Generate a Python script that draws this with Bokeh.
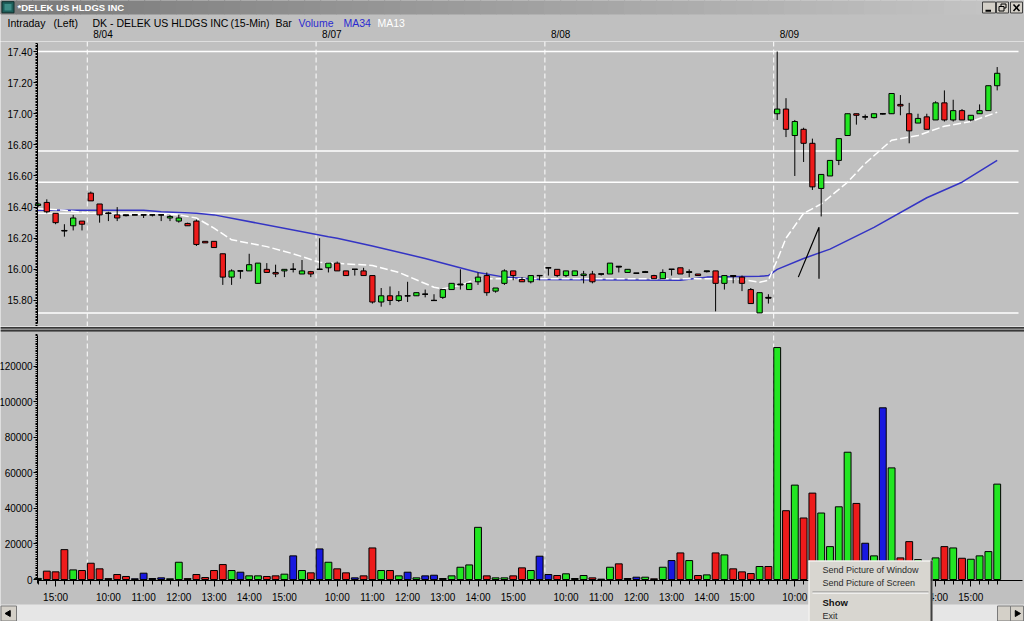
import math
from bokeh.plotting import figure
from bokeh.layouts import column
from bokeh.models import Range1d, FixedTicker, Span, ColumnDataSource
from bokeh.core.properties import value
from bokeh.embed import file_html
from bokeh.resources import INLINE

# ---------------- data ----------------
bar_index = list(range(110))

opens = [
    16.41, 16.43, 16.36, 16.25, 16.28, 16.31,
    16.49, 16.42, 16.362, 16.35, 16.35, 16.35, 16.35, 16.35, 16.35, 16.33, 16.31, 16.295, 16.31, 16.18, 16.18, 16.10, 15.95, 15.99, 15.99, 15.91, 16.00, 15.98, 15.99, 16.00, 15.97, 15.985,
    16.00, 16.01, 16.04, 15.99, 16.00, 15.99, 15.96, 15.79, 15.83, 15.80, 15.83, 15.83, 15.84, 15.80, 15.82, 15.87, 15.90, 15.87, 15.92, 15.96, 15.86, 15.91, 15.99, 15.935, 15.92, 15.96,
    16.01, 16.00, 15.96, 15.96, 15.96, 15.97, 15.97, 15.97, 16.02, 15.98, 15.975, 15.98, 15.96, 15.94, 16.00, 16.01, 15.98, 15.97, 15.985, 15.99, 15.91, 15.96, 15.95, 15.87, 15.72, 15.82,
    17.00, 17.03, 16.86, 16.90, 16.81, 16.52, 16.60, 16.70, 16.86, 17.00, 16.98, 16.975, 17.00, 17.00, 17.06, 17.00, 16.94, 16.98, 16.96, 17.07, 16.96, 17.02, 16.96, 17.00, 17.02, 17.18,
]
highs = [
    16.43, 16.45, 16.36, 16.29, 16.35, 16.31,
    16.50, 16.42, 16.37, 16.40, 16.35, 16.35, 16.35, 16.35, 16.35, 16.35, 16.35, 16.30, 16.32, 16.18, 16.18, 16.10, 16.00, 15.99, 16.10, 16.04, 16.04, 16.03, 16.00, 16.04, 16.06, 15.99,
    16.20, 16.04, 16.05, 15.99, 16.00, 16.01, 15.96, 15.88, 15.89, 15.86, 15.92, 15.85, 15.87, 15.84, 15.87, 15.91, 16.00, 15.91, 15.98, 15.98, 15.88, 16.00, 15.99, 15.95, 15.96, 15.96,
    16.01, 16.00, 15.99, 15.99, 15.99, 15.99, 15.97, 16.04, 16.02, 16.00, 15.975, 15.99, 15.965, 16.00, 16.00, 16.01, 16.00, 15.97, 15.99, 15.99, 15.96, 15.96, 15.96, 15.88, 15.85, 15.84,
    17.40, 17.10, 16.96, 16.91, 16.84, 16.61, 16.70, 16.84, 17.00, 17.00, 16.995, 17.00, 17.005, 17.13, 17.12, 17.07, 17.00, 17.00, 17.08, 17.15, 17.09, 17.03, 16.99, 17.06, 17.18, 17.30,
]
lows = [
    16.40, 16.36, 16.29, 16.21, 16.25, 16.25,
    16.44, 16.30, 16.31, 16.31, 16.34, 16.35, 16.33, 16.34, 16.31, 16.31, 16.30, 16.28, 16.15, 16.17, 16.14, 15.90, 15.90, 15.94, 15.99, 15.91, 15.98, 15.95, 15.95, 15.98, 15.97, 15.95,
    16.00, 15.98, 15.99, 15.96, 15.96, 15.96, 15.78, 15.76, 15.77, 15.79, 15.79, 15.83, 15.82, 15.80, 15.81, 15.87, 15.87, 15.87, 15.90, 15.83, 15.85, 15.90, 15.93, 15.92, 15.91, 15.93,
    15.96, 15.95, 15.95, 15.96, 15.91, 15.91, 15.96, 15.97, 15.98, 15.98, 15.97, 15.98, 15.94, 15.94, 15.96, 15.97, 15.95, 15.96, 15.98, 15.73, 15.87, 15.91, 15.86, 15.78, 15.72, 15.78,
    16.96, 16.85, 16.60, 16.69, 16.51, 16.34, 16.60, 16.67, 16.86, 16.93, 16.96, 16.97, 16.995, 17.00, 16.99, 16.81, 16.94, 16.90, 16.96, 16.95, 16.95, 16.96, 16.95, 17.00, 17.02, 17.15,
]
closes = [
    16.42, 16.37, 16.30, 16.247, 16.33, 16.29,
    16.44, 16.35, 16.358, 16.33, 16.345, 16.35, 16.35, 16.35, 16.35, 16.34, 16.33, 16.28, 16.16, 16.17, 16.14, 15.95, 15.99, 15.99, 16.03, 16.04, 15.98, 15.97, 16.00, 16.00, 15.99, 15.97,
    16.00, 16.04, 15.99, 15.96, 16.00, 15.96, 15.79, 15.83, 15.80, 15.83, 15.83, 15.85, 15.84, 15.80, 15.87, 15.91, 15.905, 15.91, 15.95, 15.85, 15.88, 15.99, 15.96, 15.92, 15.96, 15.96,
    16.01, 15.96, 15.99, 15.99, 15.97, 15.92, 15.97, 16.04, 16.015, 16.00, 15.975, 15.985, 15.94, 15.98, 16.00, 15.97, 15.985, 15.96, 15.99, 15.91, 15.96, 15.955, 15.91, 15.78, 15.85, 15.815,
    17.03, 16.90, 16.95, 16.81, 16.53, 16.61, 16.70, 16.84, 17.00, 16.99, 16.98, 17.00, 17.00, 17.13, 17.05, 16.89, 16.97, 16.90, 17.07, 16.96, 17.02, 16.96, 16.99, 17.02, 17.18, 17.26,
]
volumes = [
    600, 4700, 4300, 16800, 5400, 5050,
    9150, 6000, 500, 2800, 1700, 400, 3550, 550, 930, 400, 9700, 500, 2800, 1100, 5050, 8400, 5050, 4100, 2050, 2050, 1700, 2050, 3000, 13300, 5050, 3750,
    17200, 9700, 6000, 3750, 930, 2050, 17750, 5050, 5050, 2050, 4100, 930, 2050, 2400, 560, 2050, 6900, 8200, 29350, 2050, 930, 930, 2050, 6550, 5050, 13100,
    2800, 2250, 3200, 560, 2250, 930, 200, 6900, 8800, 560, 1300, 1300, 370, 6900, 10650, 14950, 10650, 2250, 2600, 14950, 13850, 6000, 4300, 3350, 7300, 7300,
    130500, 38700, 53100, 34600, 48600, 37400, 18500, 40900, 71600, 42800, 20400, 13300, 96600, 62800, 12150, 21300, 11200, 9000, 12150, 18500, 17750, 11950, 11400, 13300, 15700, 53650,
]
ma34_bars = [0, 12, 14, 18, 20, 33, 34, 38, 44, 50, 53, 57, 73, 76, 82, 83, 84, 87, 90, 95, 101, 105, 109]
ma34_values = [16.38, 16.38, 16.37, 16.36, 16.35, 16.21, 16.20, 16.15, 16.07, 15.98, 15.95, 15.935, 15.93, 15.95, 15.955, 15.96,
               16.00, 16.07, 16.13, 16.27, 16.46, 16.56, 16.70]
ma13_bars = [0, 3, 6, 16, 18, 20, 22, 26, 29, 32, 35, 38, 41, 45, 46, 48, 50, 57, 77, 80, 82, 83,
             84, 85, 87, 89, 92, 94, 97, 100, 103, 106, 109]
ma13_values = [16.39, 16.38, 16.36, 16.35, 16.33, 16.265, 16.19, 16.146, 16.10, 16.045, 16.035, 16.025, 15.98, 15.885, 15.875, 15.897,
               15.94, 15.94, 15.94, 15.935, 15.917, 15.93, 16.06, 16.20, 16.36, 16.42, 16.56, 16.68, 16.83, 16.86, 16.92, 16.95, 17.01]
support_levels = [17.40, 16.76, 16.56, 16.36, 15.72]
trend_bars = [86.4, 88.75, 88.75]
trend_prices = [15.95, 16.27, 15.94]

day_start_bars = [6, 32, 58, 84]
day_labels = ["8/04", "8/07", "8/08", "8/09"]
time_tick_bars = [2, 8, 12, 16, 20, 24, 28, 34, 38, 42, 46, 50, 54, 60, 64, 68, 72, 76, 80, 86, 90, 94, 98, 102, 106]
time_tick_labels = ["15:00"] + ["10:00", "11:00", "12:00", "13:00", "14:00", "15:00"] * 4
price_ticks = [15.80, 16.00, 16.20, 16.40, 16.60, 16.80, 17.00, 17.20, 17.40]
price_tick_labels = ["15.80", "16.00", "16.20", "16.40", "16.60", "16.80", "17.00", "17.20", "17.40"]
volume_ticks = [0, 20000, 40000, 60000, 80000, 100000, 120000]
volume_tick_labels = ["0", "20000", "40000", "60000", "80000", "100000", "120000"]

window_title = "*DELEK US HLDGS INC"
header_words = ["Intraday", "(Left)", "DK - DELEK US HLDGS INC", "(15-Min)", "Bar", "Volume", "MA34", "MA13"]
header_word_px = [7, 53, 92, 230, 275, 298, 343, 377]
menu_items = ["Send Picture of Window", "Send Picture of Screen", "Show", "Exit"]

# ---------------- geometry (window pixels, 1:1) ----------------
W, H = 1024, 621
HDR_H, PRICE_H = 41, 285
VOL_H = H - HDR_H - PRICE_H
BAR0_PX, BAR_STEP_PX = 37.5, 8.8

BG = "#c0c0c0"
UP, DOWN, FLAT = "#22e622", "#ee1b1b", "#1818e0"
MA34_COLOR = "#3434c4"
HDR_BLUE = "#2b2bd0"
MENU_BG = "#d8d6d0"
FONT = "Liberation Sans"


def px2k(px):
    return (px - BAR0_PX) / BAR_STEP_PX


def k2px(k):
    return BAR0_PX + k * BAR_STEP_PX


def price_at(py):
    return 17.40 - (py - 51.0) / 155.6


def vol_at(py):
    return (579.0 - py) * 562.6


XS, XE = px2k(0), px2k(W)
P_TOP, P_BOT = HDR_H, HDR_H + PRICE_H
V_TOP, V_BOT = HDR_H + PRICE_H, H
V_AXIS = vol_at(580)


def base_fig(**kw):
    p = figure(toolbar_location=None, output_backend="svg", background_fill_color=BG,
               border_fill_color=BG, outline_line_color=None, min_border=0, **kw)
    p.grid.visible = False
    return p


def style_axis(ax, ticks, minor, labels, tick_out, minor_out, standoff):
    ax.ticker = FixedTicker(ticks=ticks, minor_ticks=minor)
    ax.major_label_overrides = dict(zip(ticks, labels))
    ax.major_label_text_font = FONT
    ax.major_label_text_font_size = "10px"
    ax.major_label_text_color = "black"
    ax.axis_line_color = "black"
    ax.major_tick_line_color = "black"
    ax.minor_tick_line_color = "black"
    ax.major_tick_in = 0
    ax.minor_tick_in = 0
    ax.major_tick_out = tick_out
    ax.minor_tick_out = minor_out
    ax.major_label_standoff = standoff


def txt(p, xs, ys, texts, size, color="black", bold=False, align="left", level="glyph"):
    p.text(x=xs, y=ys, text=texts, text_font=value(FONT), text_font_size=size,
           text_color=color, text_baseline="middle", text_align=align,
           text_font_style="bold" if bold else "normal", level=level)


# ---------------- header (window title + legend line + dates) ----------------
hdr = base_fig(width=W, height=HDR_H, x_range=Range1d(0, W), y_range=Range1d(HDR_H, 0),
               x_axis_location=None, y_axis_location=None)
n = 64
c0, c1 = (122, 122, 122), (198, 198, 198)
grad = ["#%02x%02x%02x" % tuple(int(c0[j] + (c1[j] - c0[j]) * i / (n - 1)) for j in range(3)) for i in range(n)]
hdr.quad(left=[i * W / n for i in range(n)], right=[(i + 1) * W / n + 0.5 for i in range(n)],
         top=0, bottom=13.5, fill_color=grad, line_color=grad)
hdr.quad(left=1.5, right=13.5, top=1.2, bottom=12.3, fill_color="#1d5e5a", line_color="#0e2f2d")
hdr.quad(left=4, right=11, top=3.5, bottom=10, fill_color="#3d8c86", line_color=None)
txt(hdr, [17], [7], [window_title], "9.5px", color="white", bold=True)
hdr.quad(left=[982, 996, 1010], right=[995, 1008, 1022], top=1.5, bottom=12.5,
         fill_color="#d4d0c8", line_color="#404040")
hdr.segment(x0=985, y0=10.3, x1=990.5, y1=10.3, line_color="black", line_width=2)
hdr.quad(left=1000.5, right=1005.5, top=3.5, bottom=7.5, fill_color=None, line_color="black")
hdr.quad(left=998.5, right=1003.5, top=6, bottom=10.5, fill_color="#d4d0c8", line_color="black")
hdr.segment(x0=[1013, 1013], y0=[4, 10.5], x1=[1019, 1019], y1=[10.5, 4], line_color="black", line_width=1.6)
word_colors = ["black"] * 5 + [HDR_BLUE, HDR_BLUE, "white"]
txt(hdr, header_word_px, [22] * len(header_words), header_words, "10.5px", color=word_colors)
txt(hdr, [k2px(d - 0.4) + 6 for d in day_start_bars], [33.5] * 4, day_labels, "10px")

# ---------------- shared sources ----------------
body_top = [max(o, c) for o, c in zip(opens, closes)]
body_bot = [min(o, c) for o, c in zip(opens, closes)]
body_col = [UP if c > o else DOWN for o, c in zip(opens, closes)]
vol_col = [UP if c > o else (DOWN if c < o else FLAT) for o, c in zip(opens, closes)]
src = ColumnDataSource(dict(x=bar_index, o=opens, h=highs, l=lows, c=closes, top=body_top,
                            bot=body_bot, color=body_col, vol=volumes, vcolor=vol_col))

# ---------------- price panel ----------------
pf = base_fig(width=W, height=PRICE_H, x_range=Range1d(XS, XE),
              y_range=Range1d(price_at(P_BOT), price_at(P_TOP)),
              x_axis_location=None, y_axis_location="left")
style_axis(pf.yaxis[0], price_ticks, [round(15.64 + 0.01 * i, 2) for i in range(182)],
           price_tick_labels, 4, 2, 1)
pf.yaxis.fixed_location = px2k(37)
pf.yaxis.bounds = (price_at(323), price_at(43))
pf.segment(x0=px2k(37), x1=px2k(1018), y0=support_levels, y1=support_levels,
           line_color="white", line_width=1.5, level="underlay")
for d in day_start_bars:
    pf.add_layout(Span(location=d - 0.4, dimension="height", line_color="white", line_width=1,
                       line_dash="5 3", level="underlay"))
pf.line(ma34_bars, ma34_values, line_color=MA34_COLOR, line_width=1.5)
pf.line(ma13_bars, ma13_values, line_color="white", line_width=1.5, line_dash="8 3")
pf.line(trend_bars, trend_prices, line_color="black", line_width=1.2)
pf.segment(x0="x", y0="l", x1="x", y1="h", source=src, line_color="black", line_width=1)
pf.vbar(x="x", width=0.6, top="top", bottom="bot", source=src, fill_color="color", line_color="black", line_width=1)
doji = [i for i in bar_index if abs(closes[i] - opens[i]) < 0.006]
pf.segment(x0=[i - 0.32 for i in doji], x1=[i + 0.32 for i in doji],
           y0=[(opens[i] + closes[i]) / 2 for i in doji], y1=[(opens[i] + closes[i]) / 2 for i in doji],
           line_color="black", line_width=1.3)

# ---------------- volume panel (with pane divider, scroll bar and context menu) ----------------
vf = base_fig(width=W, height=VOL_H, x_range=pf.x_range,
              y_range=Range1d(vol_at(V_BOT), vol_at(V_TOP)),
              x_axis_location="below", y_axis_location="left")
# pane divider
vf.quad(left=XS, right=XE, top=vol_at(326.6), bottom=vol_at(330.9), fill_color="#8e8e8e", line_color=None)
vf.quad(left=XS, right=XE, top=[vol_at(326.6), vol_at(329.4)], bottom=[vol_at(328.0), vol_at(330.9)],
        fill_color="#383838", line_color=None)

style_axis(vf.yaxis[0], volume_ticks, [1000 * i for i in range(139)], volume_tick_labels, 4, 2, 1)
vf.yaxis.fixed_location = px2k(37)
vf.yaxis.bounds = (vol_at(583), vol_at(335))
style_axis(vf.xaxis[0], time_tick_bars, bar_index, time_tick_labels, 6, 4, 5)
vf.xaxis.fixed_location = V_AXIS
vf.xaxis.bounds = (px2k(37), px2k(1022))
vf.segment(x0=[d - 0.4 for d in day_start_bars], x1=[d - 0.4 for d in day_start_bars],
           y0=V_AXIS, y1=vol_at(331), line_color="white", line_width=1, line_dash="5 3", level="underlay")
vf.vbar(x="x", width=0.78, top="vol", bottom=0, source=src, fill_color="vcolor", line_color="black", line_width=1)

# scroll bar
vf.quad(left=XS, right=XE, top=vol_at(604), bottom=vol_at(622), fill_color="#e6e6e6", line_color=None, level="overlay")
vf.quad(left=[px2k(0.5), px2k(997), px2k(1010)], right=[px2k(16), px2k(1010), px2k(1023)],
        top=vol_at(605.5), bottom=vol_at(620.5), fill_color="#d4d0c8", line_color="#7a7a7a", level="overlay")
vf.scatter(x=[px2k(8), px2k(1016.5)], y=[vol_at(613)] * 2, marker="triangle", angle=[math.pi / 2, -math.pi / 2],
           size=6, fill_color="black", line_color="black", level="overlay")

# context menu
ml, mr = px2k(808), px2k(932)
vf.quad(left=ml, right=mr, top=vol_at(560), bottom=vol_at(630), fill_color=MENU_BG, line_color=None, level="overlay")
vf.segment(x0=ml, x1=mr, y0=vol_at(560.5), y1=vol_at(560.5), line_color="white", line_width=1, level="overlay")
vf.segment(x0=px2k(808.5), x1=px2k(808.5), y0=vol_at(560), y1=vol_at(630), line_color="white", line_width=1, level="overlay")
vf.segment(x0=px2k(931), x1=px2k(931), y0=vol_at(560), y1=vol_at(630), line_color="#404040", line_width=2, level="overlay")
vf.segment(x0=px2k(812), x1=px2k(928), y0=vol_at(591.5), y1=vol_at(591.5), line_color="#8a8a8a", line_width=1, level="overlay")
vf.segment(x0=px2k(812), x1=px2k(928), y0=vol_at(592.6), y1=vol_at(592.6), line_color="white", line_width=1, level="overlay")
txt(vf, [px2k(822)] * 2, [vol_at(569), vol_at(582)], menu_items[:2], "9px", color="#2a2a2a", level="overlay")
txt(vf, [px2k(822)], [vol_at(602)], [menu_items[2]], "9.5px", color="#111111", bold=True, level="overlay")
txt(vf, [px2k(822)], [vol_at(615)], [menu_items[3]], "9px", color="#2a2a2a", level="overlay")

layout = column(hdr, pf, vf, spacing=0)
open("out.html", "w").write(file_html(layout, INLINE, title="DK - DELEK US HLDGS INC"))
